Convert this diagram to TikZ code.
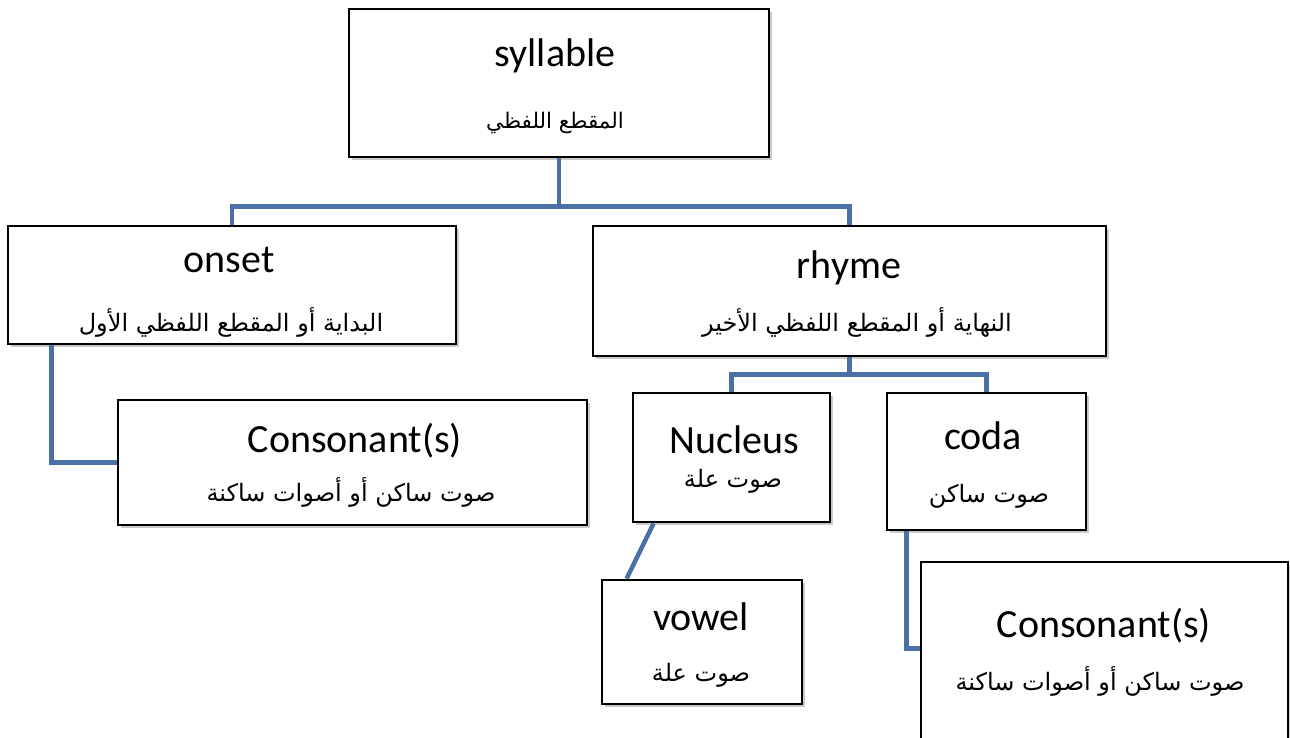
\documentclass[tikz,border=0pt]{standalone}
\usepackage{fontspec}
\setmainfont{Carlito}
\newfontfamily\arfont[Script=Arabic]{DejaVu Sans}
\TeXXeTstate=1
\usetikzlibrary{shadows}
\definecolor{linkblue}{RGB}{74,112,165}
\tikzset{
  box/.style={draw=black, line width=2.8pt, fill=white, inner sep=0pt,
    drop shadow={shadow xshift=3pt, shadow yshift=-3pt, opacity=0.35, fill=black!60}},
  link/.style={draw=linkblue, line width=4.5pt},
  en/.style={anchor=base, inner sep=0pt, font=\fontsize{40}{48}\selectfont},
  ar/.style={anchor=base, inner sep=0pt, font=\arfont\fontsize{24}{30}\selectfont},
  arsmall/.style={ar, font=\arfont\fontsize{21.5}{26}\selectfont}
}
\newcommand{\AR}[1]{\beginR #1\endR}
\begin{document}
\begin{tikzpicture}[x=1pt,y=-1pt]
\useasboundingbox (0,0) rectangle (1290,738);
\clip (0,0) rectangle (1290,738);
% boxes
\node[box, minimum width=420pt, minimum height=148pt] (syl) at (559,83) {};
\node[box, minimum width=448pt, minimum height=118pt] (onset) at (232,285) {};
\node[box, minimum width=513pt, minimum height=130pt] (rhyme) at (849.5,291) {};
\node[box, minimum width=469pt, minimum height=125pt] (cons1) at (352.5,462.5) {};
\node[box, minimum width=197pt, minimum height=129pt] (nuc) at (731.5,457.5) {};
\node[box, minimum width=199pt, minimum height=137pt] (coda) at (986.5,461.5) {};
\node[box, minimum width=200pt, minimum height=124pt] (vowel) at (702,642) {};
\node[box, minimum width=367pt, minimum height=190pt] (cons2) at (1104.5,657) {};
% connectors
\coordinate (sylj) at ([yshift=-48pt]syl.south);
\draw[link] (syl.south) -- (sylj) -| (onset.north);
\draw[link] (sylj) -| (rhyme.north);
\coordinate (rhj) at ([yshift=-17pt]rhyme.south);
\draw[link] (rhyme.south) -- (rhj) -| (nuc.north);
\draw[link] (rhj) -| (coda.north);
\draw[link] ([xshift=45pt]onset.south west) |- (cons1.west);
\draw[link] ([xshift=22pt]nuc.south west) -- ([xshift=26pt]vowel.north west);
\coordinate (c2j) at ([yshift=-88pt]cons2.north west);
\draw[link] ([xshift=21pt]coda.south west) |- (c2j);
% texts
\node[en] (tsyl) at (555,67) {syllable};
\node[arsmall] (asyl) at (555,129) {\AR{المقطع اللفظي}};
\node[en] (tons) at (229,272) {onset};
\node[ar] (aons) at (231,331) {\AR{البداية أو المقطع اللفظي الأول}};
\node[en] (trhy) at (849,278) {rhyme};
\node[ar] (arhy) at (857,331) {\AR{النهاية أو المقطع اللفظي الأخير}};
\node[en] (tc1) at (355,452) {Consonant(s)};
\node[ar] (ac1) at (351,501) {\AR{صوت ساكن أو أصوات ساكنة}};
\node[en] (tnuc) at (734,453) {Nucleus};
\node[ar] (anuc) at (733,487) {\AR{صوت علة}};
\node[en] (tcoda) at (983,449) {coda};
\node[ar] (acoda) at (989,502) {\AR{صوت ساكن}};
\node[en] (tvow) at (701,630) {vowel};
\node[ar] (avow) at (701,681) {\AR{صوت علة}};
\node[en] (tc2) at (1104,637) {Consonant(s)};
\node[ar] (ac2) at (1100,690) {\AR{صوت ساكن أو أصوات ساكنة}};
\end{tikzpicture}
\end{document}
